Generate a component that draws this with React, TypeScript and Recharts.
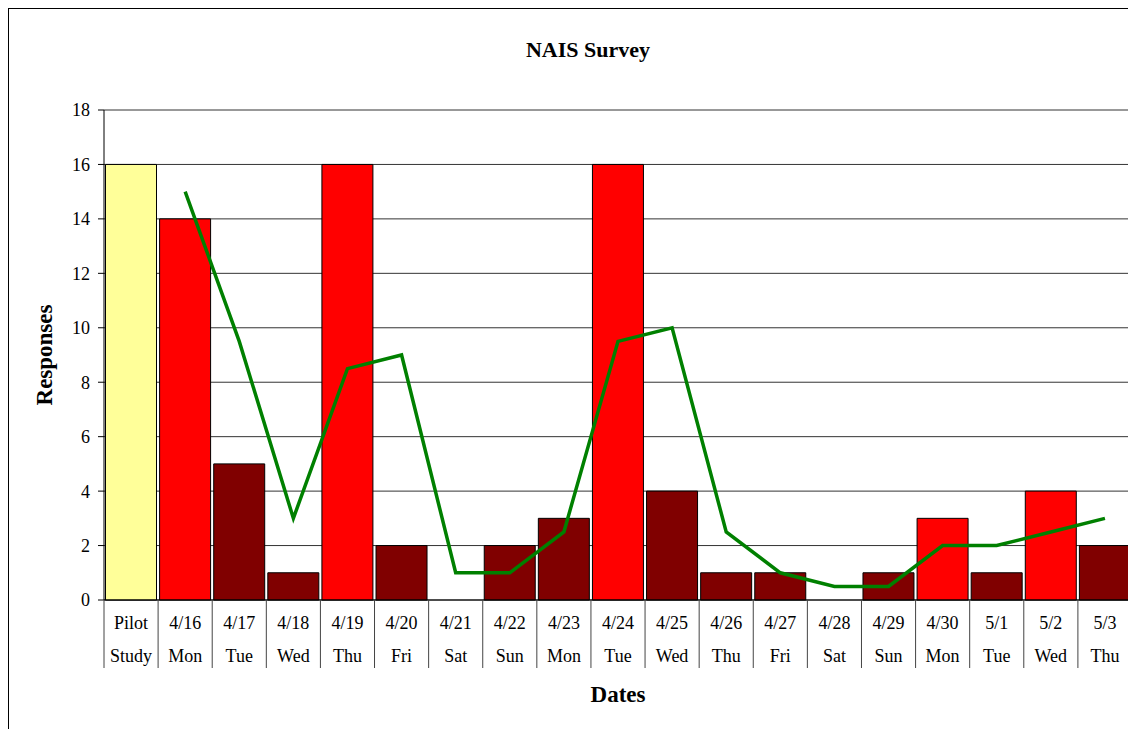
import { ComposedChart, Bar, Line, Cell, XAxis, YAxis, CartesianGrid } from 'recharts';

const dates = ['Pilot', '4/16', '4/17', '4/18', '4/19', '4/20', '4/21', '4/22', '4/23', '4/24', '4/25', '4/26', '4/27', '4/28', '4/29', '4/30', '5/1', '5/2', '5/3'];
const days = ['Study', 'Mon', 'Tue', 'Wed', 'Thu', 'Fri', 'Sat', 'Sun', 'Mon', 'Tue', 'Wed', 'Thu', 'Fri', 'Sat', 'Sun', 'Mon', 'Tue', 'Wed', 'Thu'];
const responses = [16, 14, 5, 1, 16, 2, 0, 2, 3, 16, 4, 1, 1, 0, 1, 3, 1, 4, 2];
const trend = [null, 15, 9.5, 3, 8.5, 9, 1, 1, 2.5, 9.5, 10, 2.5, 1, 0.5, 0.5, 2, 2, 2.5, 3];
const kinds = ['pilot', 'high', 'low', 'low', 'high', 'low', 'low', 'low', 'low', 'high', 'low', 'low', 'low', 'low', 'low', 'high', 'low', 'high', 'low'];
const yTicks = [0, 2, 4, 6, 8, 10, 12, 14, 16, 18];

const colors: Record<string, string> = { pilot: '#FFFF99', high: '#FF0000', low: '#800000' };

const data = dates.map((d, i) => ({ key: d + '|' + days[i], date: d, day: days[i], responses: responses[i], trend: trend[i], kind: kinds[i] }));

const W = 1128;
const H = 721;
const M = { top: 102, right: 4, bottom: 59, left: 0 };
const Y_W = 96;
const X_H = 70;
const PLOT_L = M.left + Y_W;
const PLOT_R = W - M.right;
const PLOT_B = H - M.bottom - X_H;
const BAND = (PLOT_R - PLOT_L) / dates.length;
const FONT = '"Liberation Serif", "Times New Roman", serif';

function DateTick(props: any) {
  const { x, index, payload } = props;
  const row = data[index] ?? data.find((d) => d.key === payload?.value);
  const left = x - BAND / 2;
  const last = index === dates.length - 1;
  return (
    <g>
      <line x1={left} x2={left} y1={PLOT_B} y2={PLOT_B + 68} stroke="#444" strokeWidth={1} />
      {last && <line x1={left + BAND} x2={left + BAND} y1={PLOT_B} y2={PLOT_B + 68} stroke="#444" strokeWidth={1} />}
      <text x={x} y={PLOT_B + 29} textAnchor="middle" fontFamily={FONT} fontSize={18} fill="#000">{row?.date}</text>
      <text x={x} y={PLOT_B + 62} textAnchor="middle" fontFamily={FONT} fontSize={18} fill="#000">{row?.day}</text>
    </g>
  );
}

export default function App() {
  return (
    <div style={{ position: 'relative', width: W, height: H }}>
      <div style={{ position: 'absolute', left: 0, top: 0, width: W + 20, height: H + 20, borderTop: '1px solid #000', borderLeft: '1px solid #000' }} />
      <ComposedChart width={W} height={H} data={data} margin={M} barCategoryGap={1.5}>
        <CartesianGrid horizontal vertical={false} stroke="#333" />
        <XAxis
          dataKey="key"
          type="category"
          height={X_H}
          interval={0}
          tickLine={false}
          axisLine={{ stroke: '#000' }}
          tick={<DateTick />}
        />
        <YAxis
          width={Y_W}
          domain={[0, 18]}
          ticks={yTicks}
          interval={0}
          tickSize={6}
          tickMargin={8}
          axisLine={{ stroke: '#000' }}
          tickLine={{ stroke: '#000' }}
          tick={{ fontFamily: FONT, fontSize: 18, fill: '#000' }}
        />
        <Bar dataKey="responses" stroke="#000" strokeWidth={1} isAnimationActive={false}>
          {data.map((d) => (
            <Cell key={d.key} fill={colors[d.kind]} />
          ))}
        </Bar>
        <Line dataKey="trend" type="linear" stroke="#008000" strokeWidth={3.5} dot={false} activeDot={false} connectNulls={false} isAnimationActive={false} />
      </ComposedChart>
      <svg width={W} height={H} style={{ position: 'absolute', left: 0, top: 0, pointerEvents: 'none' }}>
        <text x={580} y={49} textAnchor="middle" fontFamily={FONT} fontSize={22} fontWeight="bold" fill="#000">NAIS Survey</text>
        <text transform="translate(44,347) rotate(-90)" textAnchor="middle" fontFamily={FONT} fontSize={23} fontWeight="bold" fill="#000">Responses</text>
        <text x={610} y={694} textAnchor="middle" fontFamily={FONT} fontSize={23} fontWeight="bold" fill="#000">Dates</text>
      </svg>
    </div>
  );
}
